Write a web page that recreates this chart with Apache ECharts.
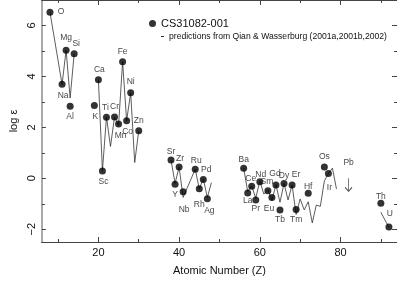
<!DOCTYPE html>
<html><head><meta charset="utf-8">
<script src="https://cdn.jsdelivr.net/npm/echarts@6/dist/echarts.min.js"></script>
<style>html,body{margin:0;padding:0;background:#fff}#c{width:397px;height:281px}</style>
</head><body><div id="c"></div>
<script>
// ---- data ----
const elements = ['O','Na','Mg','Al','Si','K','Ca','Sc','Ti','Cr','Mn','Fe','Co','Ni','Zn','Sr','Y','Zr','Nb','Ru','Rh','Pd','Ag','Ba','La','Ce','Pr','Nd','Sm','Eu','Gd','Tb','Dy','Er','Tm','Hf','Os','Ir','Th','U'];
const atomicNumber = [8,11,12,13,14,19,20,21,22,24,25,26,27,28,30,38,39,40,41,44,45,46,47,56,57,58,59,60,62,63,64,65,66,68,69,72,76,77,90,92];
const logEps = [6.52,3.69,5.03,2.83,4.89,2.86,3.87,0.29,2.40,2.41,2.13,4.58,2.26,3.36,1.87,0.72,-0.23,0.44,-0.53,0.36,-0.41,-0.05,-0.80,0.40,-0.58,-0.31,-0.85,-0.13,-0.49,-0.75,-0.26,-1.24,-0.20,-0.26,-1.22,-0.59,0.44,0.19,-0.98,-1.91];

// prediction curve (null separates segments)
const predZ = [8,11,12,13,14, null, 20,21,22,23,24,25,26,27,28,29,30, null, 38,39,40,41,44,45,46,47,48, null,
  56,57,58,59,60,61,62,63,64,65,66,67,68,69,70,71,72,73,74,75,76,77,78,79, null, 90,92];
const predLogEps = [6.52,3.69,5.03,3.15,4.89, null, 3.87,0.30,2.40,1.25,2.41,2.08,4.58,2.26,3.36,0.62,1.87, null,
  0.72,-0.20,0.44,-0.75,0.36,-0.42,-0.02,-0.75,-0.17, null,
  0.40,-0.52,-0.30,-0.78,-0.10,-0.62,-0.45,-0.87,-0.25,-0.94,-0.20,-0.85,-0.26,-1.42,-0.81,-1.24,-0.92,-1.75,-1.05,-1.10,-0.10,0.18,0.40,-0.42, null,
  -1.33,-1.93];

// upper limit
const limitElements = ['Pb'];
const limitZ = [82];
const limitLogEps = [0.0];

// axis ticks
const xMajorTicks = [20,40,60,80];
const xMinorTicks = [10,30,50,70,90];
const yMajorTicks = [-2,0,2,4,6];
const yMinorTicks = [-1,1,3,5];

const obsName = 'CS31082-001';
const predName = 'predictions from Qian & Wasserburg (2001a,2001b,2002)';

// ---- label placement (style) ----
const labelOffset = {
  O:[11,-1], Na:[1,11], Mg:[0,-13], Al:[0,10], Si:[2,-10], K:[1,11], Ca:[1,-10], Sc:[1,11],
  Ti:[-1,-10], Cr:[0,-10], Mn:[2,12], Fe:[0,-10], Co:[1,11], Ni:[0,-11], Zn:[0,-10],
  Sr:[0,-8], Y:[0,10], Zr:[1,-8], Nb:[1,18], Ru:[1,-8], Rh:[0,16], Pd:[3,-10], Ag:[2,12],
  Ba:[0,-8], La:[0,8], Ce:[-1,-8], Pr:[0,9], Nd:[1,-7], Sm:[-1,-9], Eu:[-3,11], Gd:[-1,-11],
  Tb:[0,10], Dy:[0,-8], Er:[4,-10], Tm:[0,10], Hf:[0,-7], Os:[0,-10], Ir:[1,14], Th:[0,-7], U:[1,-13]
};

const FONT = 'Liberation Sans';
const txt = '#111';

const obsData = elements.map((el, i) => ({
  name: el,
  value: [atomicNumber[i], logEps[i]],
  label: { offset: labelOffset[el] || [0,-9] }
}));
const predData = predZ.map((z, i) => (z === null ? '-' : [z, predLogEps[i]]));
const limitData = limitElements.map((el, i) => ({ name: el, value: [limitZ[i], limitLogEps[i]] }));

function xAxisDef(pos, ticks, len, showLabel, extra) {
  return Object.assign({
    type: 'value', min: 6, max: 94, position: pos, gridIndex: 0,
    axisLine: { show: true, onZero: false, lineStyle: { color: '#444', width: 1 } },
    axisTick: { show: true, inside: true, length: len, customValues: ticks, lineStyle: { color: '#444', width: 1 } },
    axisLabel: { show: showLabel, customValues: ticks, margin: 5, fontSize: 11, color: txt, fontFamily: FONT },
    splitLine: { show: false }
  }, extra || {});
}
function yAxisDef(pos, ticks, len, showLabel, lineColor, lineWidth, extra) {
  return Object.assign({
    type: 'value', min: -2.5, max: 7, position: pos, gridIndex: 0,
    axisLine: { show: true, onZero: false, lineStyle: { color: lineColor, width: lineWidth } },
    axisTick: { show: true, inside: true, length: len, customValues: ticks, lineStyle: { color: '#444', width: 1 } },
    axisLabel: { show: showLabel, customValues: ticks, rotate: 90, margin: 4, fontSize: 11, color: txt, fontFamily: FONT,
      formatter: v => (v < 0 ? '\u2212' + Math.abs(v) : String(v)) },
    splitLine: { show: false }
  }, extra || {});
}

const chart = echarts.init(document.getElementById('c'), null, { renderer: 'canvas' });
chart.setOption({
  animation: false,
  backgroundColor: '#fff',
  grid: { left: 28, right: 0, top: 0, bottom: 36 },
  xAxis: [
    xAxisDef('bottom', xMajorTicks, 5, true, {
      name: 'Atomic Number (Z)', nameLocation: 'middle', nameGap: 23,
      nameTextStyle: { fontSize: 11, color: txt, fontFamily: FONT }
    }),
    xAxisDef('bottom', xMinorTicks, 3, false),
    xAxisDef('top', xMajorTicks, 5, false),
    xAxisDef('top', xMinorTicks, 3, false)
  ],
  yAxis: [
    yAxisDef('left', yMajorTicks, 4, true, '#aaa', 2, {
      name: 'log \u03b5', nameLocation: 'middle', nameGap: 19, nameRotate: 90,
      nameTextStyle: { fontSize: 11, color: txt, fontFamily: FONT }
    }),
    yAxisDef('left', yMinorTicks, 3, false, '#aaa', 2),
    yAxisDef('right', yMajorTicks, 5, false, '#444', 1),
    yAxisDef('right', yMinorTicks, 3, false, '#444', 1)
  ],
  legend: [
    { data: [{ name: obsName, icon: 'circle' }], left: 149, top: 18, itemWidth: 7, itemHeight: 7,
      padding: 0, textStyle: { fontSize: 11, color: txt, fontFamily: FONT } },
    { data: [{ name: predName, icon: 'rect' }], left: 161, top: 32, itemWidth: 3, itemHeight: 1,
      padding: 0, textStyle: { fontSize: 8.6, color: txt, fontFamily: FONT } }
  ],
  series: [
    {
      name: predName, type: 'line', xAxisIndex: 0, yAxisIndex: 0, data: predData,
      showSymbol: false, connectNulls: false, silent: true,
      lineStyle: { color: '#333', width: 0.8 }, itemStyle: { color: '#333' }, z: 2
    },
    {
      name: obsName, type: 'scatter', xAxisIndex: 0, yAxisIndex: 0, data: obsData,
      symbol: 'circle', symbolSize: 7, itemStyle: { color: '#000' },
      label: { show: true, position: 'inside', formatter: p => p.name, fontSize: 8.5, color: txt, fontFamily: FONT },
      z: 3
    },
    {
      name: 'upper limit', type: 'scatter', xAxisIndex: 0, yAxisIndex: 0, data: limitData,
      symbol: 'path://M4,0 L4,13 M0,9 L4,13 L8,9', symbolSize: [7, 13], symbolOffset: [0, '50%'],
      symbolKeepAspect: false,
      itemStyle: { color: 'rgba(0,0,0,0)', borderColor: '#222', borderWidth: 1 },
      label: { show: true, position: 'inside', offset: [0, -22], formatter: p => p.name, fontSize: 8.5, color: txt, fontFamily: FONT },
      z: 3
    }
  ]
});
</script></body></html>
